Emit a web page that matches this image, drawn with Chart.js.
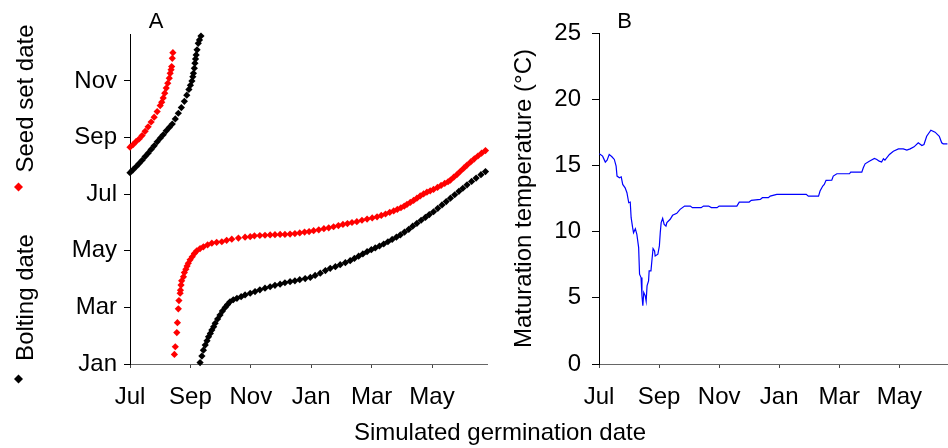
<!DOCTYPE html>
<html lang="en">
<head>
<meta charset="UTF-8">
<title>Germination timing</title>
<style>
  html, body { margin: 0; padding: 0; background: #fff; }
  body { width: 948px; height: 448px; position: relative; overflow: hidden;
         font-family: "Liberation Sans", Arial, sans-serif; }
  #chartA { position: absolute; left: 0; top: 0; }
  #chartB { position: absolute; left: 500px; top: 0; }
  #xTitle { position: absolute; left: 300px; width: 400px; top: 420px; text-align: center;
            font-size: 24px; line-height: 24px; color: #000; }
</style>
</head>
<body>
<canvas id="chartA" width="500" height="448"></canvas>
<canvas id="chartB" width="448" height="448"></canvas>
<div id="xTitle">Simulated germination date</div>

<script src="https://cdn.jsdelivr.net/npm/chart.js@4.4.0/dist/chart.umd.min.js"></script>
<script>
  // x: months after 1 Jul (germination), y: months after 1 Jan (event date)
  const germTicks = [0, 2, 4, 6, 8, 10];
  const germLabels = ['Jul', 'Sep', 'Nov', 'Jan', 'Mar', 'May'];
  const dateTicks = [0, 2, 4, 6, 8, 10];
  const dateLabels = ['Jan', 'Mar', 'May', 'Jul', 'Sep', 'Nov'];
  const tempTicks = [0, 5, 10, 15, 20, 25];

  const boltingDates = [
    [0, 6.76], [0.1, 6.86], [0.2, 6.97], [0.3, 7.08], [0.4, 7.2], [0.5, 7.33], [0.6, 7.45],
    [0.7, 7.58], [0.8, 7.71], [0.9, 7.85], [1.0, 7.98], [1.1, 8.1], [1.2, 8.24], [1.3, 8.36],
    [1.4, 8.48], [1.5, 8.66], [1.6, 8.86], [1.7, 9.06], [1.8, 9.28], [1.88, 9.5], [1.95, 9.7],
    [2.0, 9.85], [2.05, 10.0], [2.08, 10.15], [2.1, 10.27], [2.13, 10.45], [2.15, 10.63],
    [2.17, 10.78], [2.19, 10.92], [2.22, 11.1], [2.26, 11.33], [2.3, 11.45], [2.35, 11.59],
    [2.32, 0.05], [2.38, 0.28], [2.43, 0.49], [2.49, 0.67], [2.55, 0.82], [2.6, 0.96],
    [2.66, 1.08], [2.71, 1.2], [2.77, 1.32], [2.82, 1.44], [2.9, 1.59], [2.98, 1.73],
    [3.06, 1.87], [3.15, 2.0], [3.23, 2.1], [3.31, 2.2], [3.42, 2.27], [3.54, 2.32],
    [3.68, 2.38], [3.81, 2.44], [3.98, 2.5], [4.14, 2.56], [4.3, 2.62], [4.47, 2.68],
    [4.64, 2.73], [4.8, 2.78], [4.97, 2.82], [5.13, 2.87], [5.3, 2.91], [5.46, 2.94],
    [5.62, 2.98], [5.8, 3.02], [5.97, 3.06], [6.13, 3.13], [6.3, 3.21], [6.47, 3.3],
    [6.63, 3.38], [6.8, 3.44], [6.96, 3.51], [7.13, 3.58], [7.29, 3.65], [7.43, 3.73],
    [7.57, 3.81], [7.71, 3.89], [7.85, 3.97], [7.99, 4.04], [8.12, 4.1], [8.26, 4.17],
    [8.4, 4.24], [8.54, 4.32], [8.68, 4.4], [8.82, 4.48], [8.95, 4.56], [9.09, 4.66],
    [9.23, 4.76], [9.36, 4.87], [9.5, 4.97], [9.64, 5.08], [9.78, 5.18], [9.91, 5.28],
    [10.05, 5.38], [10.19, 5.5], [10.33, 5.62], [10.47, 5.74], [10.61, 5.86], [10.75, 5.98],
    [10.89, 6.1], [11.02, 6.21], [11.16, 6.33], [11.31, 6.45], [11.46, 6.57], [11.62, 6.69],
    [11.77, 6.8]
  ];

  const seedSetDates = [
    [0, 7.66], [0.1, 7.75], [0.2, 7.86], [0.3, 7.95], [0.4, 8.07], [0.5, 8.22], [0.6, 8.38],
    [0.7, 8.55], [0.8, 8.72], [0.9, 8.92], [1.0, 9.13], [1.05, 9.25], [1.1, 9.4], [1.15, 9.57],
    [1.2, 9.75], [1.25, 9.92], [1.3, 10.1], [1.33, 10.27], [1.36, 10.4], [1.38, 10.51],
    [1.4, 10.8], [1.42, 11.0],
    [1.47, 0.34], [1.5, 0.61], [1.55, 1.11], [1.57, 1.46], [1.6, 1.95], [1.62, 2.24],
    [1.66, 2.5], [1.67, 2.61], [1.69, 2.79], [1.71, 2.94], [1.77, 3.08], [1.8, 3.23],
    [1.85, 3.35], [1.89, 3.46], [1.93, 3.56], [1.99, 3.68], [2.06, 3.79], [2.13, 3.9],
    [2.21, 4.0], [2.32, 4.08], [2.43, 4.14], [2.57, 4.21], [2.71, 4.27], [2.87, 4.3],
    [3.04, 4.32], [3.2, 4.37], [3.37, 4.41], [3.59, 4.45], [3.81, 4.48], [3.98, 4.5],
    [4.12, 4.53], [4.3, 4.54], [4.47, 4.55], [4.64, 4.56], [4.8, 4.57], [4.97, 4.58],
    [5.13, 4.58], [5.3, 4.59], [5.46, 4.61], [5.62, 4.63], [5.78, 4.66], [5.93, 4.68],
    [6.08, 4.71], [6.25, 4.74], [6.42, 4.78], [6.58, 4.81], [6.74, 4.85], [6.9, 4.89],
    [7.05, 4.93], [7.2, 4.96], [7.35, 5.0], [7.51, 5.03], [7.68, 5.08], [7.85, 5.12],
    [8.02, 5.16], [8.18, 5.2], [8.32, 5.25], [8.46, 5.3], [8.6, 5.36], [8.73, 5.41],
    [8.85, 5.46], [8.97, 5.52], [9.08, 5.58], [9.17, 5.64], [9.28, 5.71], [9.39, 5.78],
    [9.5, 5.86], [9.61, 5.94], [9.72, 6.01], [9.83, 6.07], [9.94, 6.12], [10.05, 6.17],
    [10.18, 6.24], [10.3, 6.31], [10.42, 6.38], [10.53, 6.44], [10.61, 6.5], [10.72, 6.6],
    [10.83, 6.7], [10.94, 6.81], [11.05, 6.92], [11.16, 7.03], [11.28, 7.14], [11.4, 7.25],
    [11.52, 7.35], [11.64, 7.45], [11.77, 7.54]
  ];

  const maturationTemp = [
    [0.01, 15.88], [0.12, 15.7], [0.21, 15.25], [0.27, 15.4], [0.34, 15.83], [0.43, 15.65],
    [0.51, 15.45], [0.57, 14.94], [0.6, 14.19], [0.68, 14.07], [0.74, 14.14], [0.79, 13.56],
    [0.87, 13.31], [0.93, 12.94], [0.99, 12.18], [1.04, 12.23], [1.07, 11.05], [1.12, 10.3],
    [1.15, 9.92], [1.21, 10.22], [1.26, 9.8], [1.32, 8.79], [1.35, 6.78], [1.4, 6.53],
    [1.43, 5.15], [1.46, 4.4], [1.49, 5.4], [1.54, 5.15], [1.57, 4.75], [1.6, 5.9],
    [1.65, 6.28], [1.67, 7.03], [1.73, 7.03], [1.76, 7.78], [1.8, 8.72], [1.85, 8.54],
    [1.87, 8.16], [1.96, 8.29], [2.01, 8.92], [2.04, 9.92], [2.07, 10.68], [2.12, 11.0],
    [2.17, 10.55], [2.23, 10.42], [2.26, 10.68], [2.37, 10.93], [2.45, 11.23], [2.59, 11.38],
    [2.7, 11.68], [2.85, 11.93], [3.04, 11.93], [3.11, 11.81], [3.4, 11.81], [3.48, 11.93],
    [3.65, 11.93], [3.74, 11.81], [3.93, 11.81], [4.0, 11.93], [4.59, 11.93], [4.67, 12.23],
    [5.0, 12.23], [5.07, 12.36], [5.37, 12.43], [5.44, 12.56], [5.64, 12.56], [5.7, 12.68],
    [5.92, 12.81], [6.9, 12.81], [6.97, 12.68], [7.31, 12.68], [7.36, 13.06], [7.45, 13.44],
    [7.5, 13.56], [7.56, 13.87], [7.75, 13.89], [7.8, 14.19], [7.92, 14.37], [8.34, 14.37],
    [8.38, 14.49], [8.75, 14.49], [8.8, 14.82], [8.86, 15.12], [9.0, 15.32], [9.17, 15.52],
    [9.25, 15.45], [9.33, 15.32], [9.41, 15.25], [9.47, 15.5], [9.52, 15.4], [9.67, 15.83],
    [9.8, 16.07], [9.97, 16.25], [10.13, 16.25], [10.25, 16.15], [10.36, 16.25], [10.49, 16.4],
    [10.63, 16.71], [10.75, 16.5], [10.82, 16.58], [10.91, 17.2], [11.05, 17.66], [11.19, 17.51],
    [11.33, 17.2], [11.41, 16.71], [11.46, 16.63], [11.6, 16.63]
  ];

  const FONT = '"Liberation Sans", Arial, sans-serif';
  Chart.defaults.font.family = FONT;
  Chart.defaults.color = '#000';

  function toPoints(pairs) {
    return pairs.map(([x, y]) => ({ x, y }));
  }

  function fixedTicks(values) {
    return (scale) => { scale.ticks = values.map((v) => ({ value: v })); };
  }

  function diamond(ctx, x, y, r, color) {
    ctx.beginPath();
    ctx.moveTo(x, y - r);
    ctx.lineTo(x + r, y);
    ctx.lineTo(x, y + r);
    ctx.lineTo(x - r, y);
    ctx.closePath();
    ctx.fillStyle = color;
    ctx.fill();
  }

  function rotatedText(ctx, text, x, y) {
    ctx.save();
    ctx.translate(x, y);
    ctx.rotate(-Math.PI / 2);
    ctx.textAlign = 'center';
    ctx.textBaseline = 'alphabetic';
    ctx.fillText(text, 0, 0);
    ctx.restore();
  }

  // panel letter plus the two-colour y title with its markers
  const panelADecor = {
    id: 'panelADecor',
    afterDraw(chart) {
      const ctx = chart.ctx;
      ctx.save();
      ctx.fillStyle = '#000';
      ctx.font = '22px ' + FONT;
      ctx.textAlign = 'center';
      ctx.fillText('A', 156, 28);
      ctx.font = '24px ' + FONT;
      rotatedText(ctx, 'Seed set date', 33, 98.5);
      rotatedText(ctx, 'Bolting date', 33, 297.5);
      diamond(ctx, 18.5, 187, 4.5, '#ff0000');
      diamond(ctx, 18.5, 379, 4.5, '#000000');
      ctx.restore();
    }
  };

  const panelBDecor = {
    id: 'panelBDecor',
    afterDraw(chart) {
      const ctx = chart.ctx;
      ctx.save();
      ctx.fillStyle = '#000';
      ctx.font = '22px ' + FONT;
      ctx.textAlign = 'center';
      ctx.fillText('B', 124.5, 28);
      ctx.restore();
    }
  };

  const tickFont = { size: 24, family: FONT };

  const xAxis = (max) => ({
    type: 'linear',
    min: 0,
    max: max,
    afterBuildTicks: fixedTicks(germTicks),
    afterFit: (s) => { s.height = 84; },
    ticks: {
      callback: (v, i) => germLabels[i],
      font: tickFont,
      color: '#000',
      padding: 15,
      maxRotation: 0,
      autoSkip: false
    },
    grid: { drawOnChartArea: false, tickLength: 4, color: '#444' },
    border: { color: '#666', width: 1 }
  });

  const markerStyle = (color) => ({
    pointStyle: 'rectRot',
    pointRadius: 3.6,
    borderWidth: 0,
    backgroundColor: color,
    borderColor: color,
    clip: false
  });

  new Chart(document.getElementById('chartA'), {
    type: 'scatter',
    data: {
      datasets: [
        Object.assign({ label: 'Bolting date', data: toPoints(boltingDates) }, markerStyle('#000000')),
        Object.assign({ label: 'Seed set date', data: toPoints(seedSetDates) }, markerStyle('#ff0000'))
      ]
    },
    options: {
      responsive: false,
      animation: false,
      devicePixelRatio: 1,
      events: [],
      layout: { padding: { top: 34, right: 13, left: 0, bottom: 0 } },
      plugins: { legend: { display: false }, tooltip: { enabled: false } },
      scales: {
        x: xAxis(11.82),
        y: {
          type: 'linear',
          min: 0,
          max: 11.66,
          afterBuildTicks: fixedTicks(dateTicks),
          afterFit: (s) => { s.width = 130; },
          ticks: {
            callback: (v, i) => dateLabels[i],
            font: tickFont,
            color: '#000',
            padding: 7,
            autoSkip: false
          },
          grid: { drawOnChartArea: false, tickLength: 6, color: '#000' },
          border: { color: '#000', width: 1 }
        }
      }
    },
    plugins: [panelADecor]
  });

  new Chart(document.getElementById('chartB'), {
    type: 'line',
    data: {
      datasets: [{
        label: 'Maturation temperature',
        data: toPoints(maturationTemp),
        borderColor: '#0000ff',
        borderWidth: 1.2,
        pointRadius: 0,
        tension: 0,
        fill: false
      }]
    },
    options: {
      responsive: false,
      animation: false,
      devicePixelRatio: 1,
      events: [],
      layout: { padding: { top: 33, right: 0, left: 0, bottom: 0 } },
      plugins: { legend: { display: false }, tooltip: { enabled: false } },
      scales: {
        x: xAxis(11.62),
        y: {
          type: 'linear',
          min: 0,
          max: 25,
          afterBuildTicks: fixedTicks(tempTicks),
          afterFit: (s) => { s.width = 99; },
          ticks: {
            font: tickFont,
            color: '#000',
            padding: 11,
            autoSkip: false
          },
          grid: { drawOnChartArea: false, tickLength: 7, color: '#000' },
          border: { color: '#000', width: 1 },
          title: {
            display: true,
            text: 'Maturation temperature (°C)',
            font: { size: 24, family: FONT },
            color: '#000',
            padding: { top: 10, bottom: 0 }
          }
        }
      }
    },
    plugins: [panelBDecor]
  });
</script>
</body>
</html>
